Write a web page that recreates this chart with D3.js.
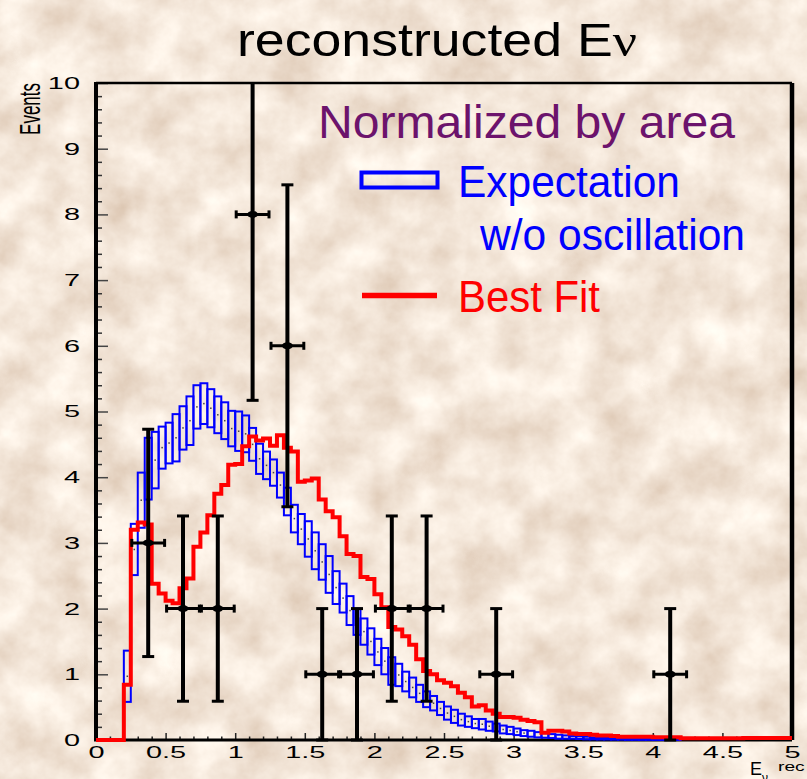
<!DOCTYPE html>
<html>
<head>
<meta charset="utf-8">
<script src="https://cdn.jsdelivr.net/npm/d3@7"></script>
<style>
  body { margin: 0; background: #e6cdb4; }
  svg { display: block; font-family: "Liberation Sans", Arial, sans-serif; }
</style>
</head>
<body>
<div id="chart"></div>
<script>
const svgWidth = 807;
const svgHeight = 779;
const margin = { top: 83, right: 15, bottom: 39, left: 96 };
const width = svgWidth - margin.left - margin.right;
const height = svgHeight - margin.top - margin.bottom;

// histogram bins of 0.05 GeV
const binWidth = 0.05;

// Best Fit (red), bins starting at 0.00
const redStart = 0.0;
const redValues = [
    0, 0, 0, 0, 0.84, 3.20, 3.31, 3.28, 2.38, 2.23,
    2.12, 2.08, 2.31, 2.46, 2.94, 3.16, 3.42, 3.75, 3.88, 4.19,
    4.20, 4.47, 4.62, 4.56, 4.59, 4.48, 4.64, 4.45, 4.39, 3.93,
    3.95, 3.98, 3.66, 3.48, 3.39, 3.10, 2.83, 2.80, 2.48, 2.45,
    2.22, 2.02, 1.72, 1.68, 1.58, 1.45, 1.23, 1.05, 1.00, 0.91,
    0.87, 0.82, 0.72, 0.65, 0.51, 0.53, 0.45, 0.40, 0.35, 0.35,
    0.34, 0.31, 0.29, 0.27, 0.11, 0.14, 0.14, 0.13, 0.10, 0.09,
    0.09, 0.08, 0.07, 0.07, 0.06, 0.05, 0.05, 0.05, 0.05, 0.05,
    0.04, 0.04, 0.04, 0.04, 0.025, 0.025, 0.025, 0.025, 0.025, 0.025,
    0.025, 0.025, 0.025, 0.03, 0.03, 0.03, 0.03, 0.03, 0.03, 0.03
];

// Expectation w/o oscillation (blue boxes), bins starting at 0.20
const blueStart = 0.2;
const blueCenter = [
    0.97, 2.90, 3.65, 4.13, 4.26, 4.45,
    4.52, 4.60, 4.75, 4.86, 5.07, 5.12, 5.05, 4.95, 4.86, 4.74,
    4.70, 4.66, 4.50, 4.28, 4.18, 4.07, 3.88, 3.63, 3.37, 3.21,
    3.06, 2.88, 2.71, 2.52, 2.32, 2.16, 1.97, 1.80, 1.65, 1.50,
    1.34, 1.20, 1.05, 0.99, 0.89, 0.80, 0.71, 0.62, 0.56, 0.48,
    0.41, 0.36, 0.31, 0.28, 0.25, 0.24, 0.21, 0.19, 0.16, 0.145,
    0.125, 0.105, 0.095, 0.08, 0.07, 0.06, 0.05, 0.045, 0.04, 0.035,
    0.03, 0.025, 0.02, 0.02, 0.015, 0.015, 0.01, 0.01, 0.01, 0.008,
    0.006, 0.005, 0.004, 0.003
];
const blueErr = [
    0.39, 0.39, 0.42, 0.47, 0.43, 0.32,
    0.31, 0.36, 0.33, 0.37, 0.33, 0.31, 0.29, 0.28, 0.28, 0.27,
    0.30, 0.28, 0.25, 0.23, 0.21, 0.20, 0.19, 0.21, 0.21, 0.23,
    0.27, 0.28, 0.27, 0.28, 0.25, 0.22, 0.22, 0.20, 0.20, 0.20,
    0.20, 0.20, 0.21, 0.17, 0.15, 0.15, 0.13, 0.12, 0.11, 0.10,
    0.10, 0.10, 0.09, 0.08, 0.07, 0.08, 0.07, 0.06, 0.06, 0.055,
    0.05, 0.045, 0.045, 0.04, 0.035, 0.03, 0.03, 0.025, 0.02, 0.02,
    0.02, 0.015, 0.012, 0.012, 0.01, 0.01, 0.008, 0.008, 0.008, 0.006,
    0.005, 0.004, 0.003, 0.003
];

// observed events (black points)
const dataE = [0.375, 0.625, 0.875, 1.125, 1.375, 1.625, 1.875, 2.125, 2.375, 2.875, 4.125];
const dataN = [3, 2, 2, 8, 6, 1, 1, 2, 2, 1, 1];
const dataErr = [1.73, 1.41, 1.41, 2.83, 2.45, 1, 1, 1.41, 1.41, 1, 1];
const dataXErr = [0.125, 0.125, 0.125, 0.125, 0.125, 0.125, 0.125, 0.125, 0.125, 0.125, 0.125];

const xTickLabels = ["0", "0.5", "1", "1.5", "2", "2.5", "3", "3.5", "4", "4.5", "5"];
const yTickLabels = ["0", "1", "2", "3", "4", "5", "6", "7", "8", "9", "10"];
const xMinor = d3.range(0, 51).map(d => d / 10).filter(d => Math.round(d * 10) % 5 !== 0);
const yMinor = d3.range(0, 51).map(d => d / 5).filter(d => Math.round(d * 5) % 5 !== 0);

const labelStretch = 1.7;

const root = d3.select('#chart')
    .append("svg")
    .attr("width", svgWidth)
    .attr("height", svgHeight);

const defs = root.append("defs");

// parchment background
const paper = defs.append("filter")
    .attr("id", "paper")
    .attr("x", 0).attr("y", 0).attr("width", "100%").attr("height", "100%");
paper.append("feTurbulence")
    .attr("type", "fractalNoise")
    .attr("baseFrequency", 0.022)
    .attr("numOctaves", 5)
    .attr("seed", 11);
paper.append("feColorMatrix")
    .attr("type", "matrix")
    .attr("values", "0.4 0 0 0 0.70  0.5 0 0 0 0.545  0.55 0 0 0 0.42  0 0 0 0 1");

defs.append("clipPath")
    .attr("id", "plotClip")
    .append("rect")
    .attr("x", 0).attr("y", 0)
    .attr("width", width).attr("height", height + 4);

root.append("rect")
    .attr("width", svgWidth)
    .attr("height", svgHeight)
    .attr("filter", "url(#paper)");

const svg = root.append("g")
    .attr("transform", `translate(${margin.left},${margin.top})`);

const x = d3.scaleLinear().domain([0, 5]).range([0, width]);
const y = d3.scaleLinear().domain([0, 10]).range([height, 0]);

// X axis (major + minor ticks, inward)
const xAxis = svg.append("g")
    .attr("transform", `translate(0,${height})`)
    .call(d3.axisBottom(x)
        .tickValues(xTickLabels.map(Number))
        .tickFormat((d, i) => xTickLabels[i])
        .tickSize(-7)
        .tickPadding(6));
xAxis.select(".domain").remove();
xAxis.selectAll("line").attr("stroke", "#222").attr("stroke-width", 1.5);
xAxis.selectAll("text")
    .attr("font-size", 17)
    .attr("fill", "#000")
    .attr("transform", `scale(${labelStretch},1)`);

svg.append("g")
    .attr("transform", `translate(0,${height})`)
    .call(d3.axisBottom(x).tickValues(xMinor).tickSize(-3.5).tickFormat(""))
    .call(g => g.select(".domain").remove())
    .selectAll("line").attr("stroke", "#222").attr("stroke-width", 1.5);

// Y axis
const yAxis = svg.append("g")
    .call(d3.axisLeft(y)
        .tickValues(yTickLabels.map(Number))
        .tickFormat((d, i) => yTickLabels[i])
        .tickSize(-12)
        .tickPadding(0));
yAxis.select(".domain").remove();
yAxis.selectAll("line").attr("stroke", "#444").attr("stroke-width", 1.5);
yAxis.selectAll("text")
    .attr("font-size", 17)
    .attr("fill", "#000")
    .attr("x", 0)
    .attr("transform", `translate(-16,0) scale(${labelStretch},1)`);

svg.append("g")
    .call(d3.axisLeft(y).tickValues(yMinor).tickSize(-6).tickFormat(""))
    .call(g => g.select(".domain").remove())
    .selectAll("line").attr("stroke", "#333").attr("stroke-width", 1.5);

// Frame
svg.append("line").attr("x1", 0).attr("x2", width).attr("y1", 0).attr("y2", 0)
    .attr("stroke", "#000").attr("stroke-width", 2.5);
svg.append("line").attr("x1", width).attr("x2", width).attr("y1", 0).attr("y2", height)
    .attr("stroke", "#000").attr("stroke-width", 4.5);
svg.append("line").attr("x1", 0).attr("x2", width).attr("y1", height).attr("y2", height)
    .attr("stroke", "#000").attr("stroke-width", 3);
svg.append("line").attr("x1", 0).attr("x2", 0).attr("y1", -1).attr("y2", height + 1.5)
    .attr("stroke", "#000").attr("stroke-width", 4);

const plot = svg.append("g").attr("clip-path", "url(#plotClip)");

// Expectation boxes
const blueBins = blueCenter.map((c, i) => ({
    lo: blueStart + i * binWidth,
    c: c,
    e: blueErr[i]
}));

plot.append("g")
    .selectAll("rect")
    .data(blueBins)
    .join("rect")
    .attr("x", d => x(d.lo))
    .attr("y", d => y(d.c + d.e))
    .attr("width", x(binWidth) - x(0))
    .attr("height", d => Math.max(0.3, y(d.c - d.e) - y(d.c + d.e)))
    .attr("fill", "none")
    .attr("stroke", "#0000ff")
    .attr("stroke-width", 2);

plot.append("g")
    .selectAll("rect")
    .data(blueBins.filter(d => d.c > 0.1))
    .join("rect")
    .attr("x", d => x(d.lo + binWidth / 2) - 0.75)
    .attr("y", d => y(d.c) - 0.75)
    .attr("width", 1.5)
    .attr("height", 1.5)
    .attr("fill", "#444");

// Best Fit step line
const redPoints = [[redStart, 0]];
redValues.forEach((v, i) => {
    const lo = redStart + i * binWidth;
    redPoints.push([lo, v], [lo + binWidth, v]);
});

plot.append("path")
    .datum(redPoints)
    .attr("d", d3.line().x(d => x(d[0])).y(d => y(d[1])))
    .attr("fill", "none")
    .attr("stroke", "#ff0000")
    .attr("stroke-width", 4)
    .attr("stroke-linejoin", "miter");

// Data points with error bars
const points = dataE.map((e, i) => ({ e: e, n: dataN[i], err: dataErr[i], xe: dataXErr[i] }));
const pts = plot.append("g").selectAll("g").data(points).join("g");

pts.append("line")
    .attr("x1", d => x(d.e)).attr("x2", d => x(d.e))
    .attr("y1", d => y(d.n - d.err)).attr("y2", d => y(d.n + d.err))
    .attr("stroke", "#000").attr("stroke-width", 4);
pts.append("line")
    .attr("x1", d => x(d.e) - 6).attr("x2", d => x(d.e) + 6)
    .attr("y1", d => y(d.n + d.err)).attr("y2", d => y(d.n + d.err))
    .attr("stroke", "#000").attr("stroke-width", 3);
pts.append("line")
    .attr("x1", d => x(d.e) - 6).attr("x2", d => x(d.e) + 6)
    .attr("y1", d => y(d.n - d.err)).attr("y2", d => y(d.n - d.err))
    .attr("stroke", "#000").attr("stroke-width", 3);
pts.append("line")
    .attr("x1", d => x(d.e - d.xe)).attr("x2", d => x(d.e + d.xe))
    .attr("y1", d => y(d.n)).attr("y2", d => y(d.n))
    .attr("stroke", "#000").attr("stroke-width", 3);
pts.append("line")
    .attr("x1", d => x(d.e - d.xe) + 1).attr("x2", d => x(d.e - d.xe) + 1)
    .attr("y1", d => y(d.n) - 4).attr("y2", d => y(d.n) + 4)
    .attr("stroke", "#000").attr("stroke-width", 3);
pts.append("line")
    .attr("x1", d => x(d.e + d.xe) - 1).attr("x2", d => x(d.e + d.xe) - 1)
    .attr("y1", d => y(d.n) - 4).attr("y2", d => y(d.n) + 4)
    .attr("stroke", "#000").attr("stroke-width", 3);
pts.append("ellipse")
    .attr("cx", d => x(d.e)).attr("cy", d => y(d.n))
    .attr("rx", 5.5).attr("ry", 3.5)
    .attr("fill", "#000");

// Axis titles
root.append("text")
    .attr("transform", "translate(40,83) scale(1.75,1) rotate(-90)")
    .attr("text-anchor", "end")
    .attr("font-size", 17)
    .text("Events");

const xTitle = root.append("text")
    .attr("x", 750)
    .attr("y", 775)
    .attr("font-size", 18);
xTitle.append("tspan").text("E");
xTitle.append("tspan").attr("font-size", 12).attr("dy", 7).text("ν");
root.append("text")
    .attr("transform", "translate(778,771) scale(1.6,1)")
    .attr("font-size", 12)
    .text("rec");

// Title
const title = root.append("text")
    .attr("x", 237)
    .attr("y", 56)
    .attr("font-size", 46)
    .attr("textLength", 400)
    .attr("lengthAdjust", "spacingAndGlyphs");
title.append("tspan").text("reconstructed E");
title.append("tspan").attr("font-family", "'Liberation Serif', serif").text("ν");

// Legend
root.append("text")
    .attr("x", 318).attr("y", 138)
    .attr("font-size", 46)
    .attr("fill", "#6c136c")
    .attr("textLength", 417)
    .attr("lengthAdjust", "spacingAndGlyphs")
    .text("Normalized by area");

root.append("rect")
    .attr("x", 361.5).attr("y", 172.5)
    .attr("width", 76).attr("height", 15)
    .attr("fill", "none")
    .attr("stroke", "#0000ff")
    .attr("stroke-width", 4);
root.append("text")
    .attr("x", 458).attr("y", 197)
    .attr("font-size", 44)
    .attr("fill", "#0000ff")
    .attr("textLength", 222)
    .attr("lengthAdjust", "spacingAndGlyphs")
    .text("Expectation");
root.append("text")
    .attr("x", 480).attr("y", 250)
    .attr("font-size", 44)
    .attr("fill", "#0000ff")
    .attr("textLength", 265)
    .attr("lengthAdjust", "spacingAndGlyphs")
    .text("w/o oscillation");

root.append("line")
    .attr("x1", 362).attr("x2", 437)
    .attr("y1", 295.5).attr("y2", 295.5)
    .attr("stroke", "#ff0000")
    .attr("stroke-width", 5.5);
root.append("text")
    .attr("x", 458).attr("y", 312)
    .attr("font-size", 44)
    .attr("fill", "#ff0000")
    .attr("textLength", 142)
    .attr("lengthAdjust", "spacingAndGlyphs")
    .text("Best Fit");
</script>
</body>
</html>
